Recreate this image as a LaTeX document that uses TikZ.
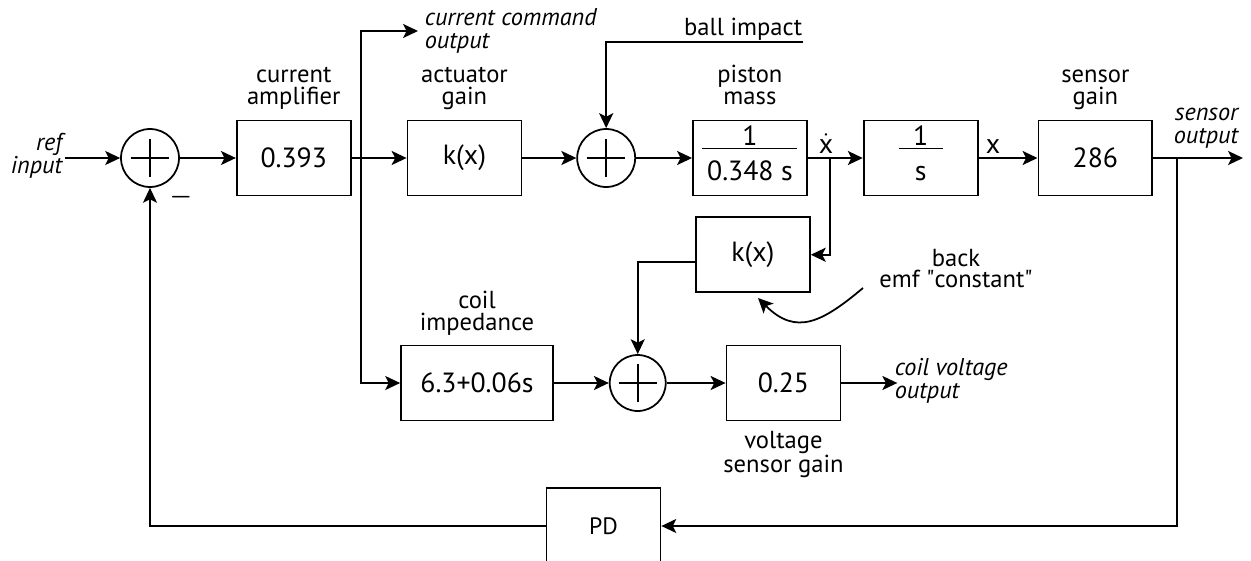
\documentclass[tikz,border=0pt]{standalone}
\usepackage{amsmath}
\usepackage{fontspec}
\setmainfont{PT Sans}
\usetikzlibrary{arrows.meta,positioning,calc}

% numerator over a rule over denominator, for the transfer-function boxes
\newcommand{\fracbox}[3]{#1\\[-15pt]\rule{#3}{1pt}\\#2\rule[-6pt]{0pt}{6pt}}

\begin{document}
\begin{tikzpicture}[
    x=0.02cm, y=-0.02cm,
    line width=1pt,
    >={Stealth[length=8.5pt,width=8pt,inset=2pt]},
    gainbox/.style={draw, align=center, minimum width=2.28cm, minimum height=1.5cm,
                    inner sep=2pt, font=\fontsize{15.8}{17.5}\selectfont},
    sumnode/.style={draw, circle, minimum size=1.16cm, inner sep=0pt,
                    path picture={\draw
                      ([xshift=-0.38cm]path picture bounding box.center) -- ([xshift=0.38cm]path picture bounding box.center)
                      ([yshift=-0.38cm]path picture bounding box.center) -- ([yshift=0.38cm]path picture bounding box.center);}},
    lbl/.style={font=\fontsize{14}{12.5}\selectfont, align=center, inner sep=0pt, text depth=3.5pt},
    iolbl/.style={lbl, font=\fontsize{13.8}{13.6}\selectfont\itshape},
    sig/.style={font=\fontsize{15.8}{17}\selectfont, inner sep=0pt},
    node distance=1.1cm,
]
\useasboundingbox (0,0) rectangle (1251,561);

% --- forward path ---
\node[sumnode] (sum1) at (150,158) {};
\node[gainbox, right=1.12cm of sum1]  (amp)    {0.393};
\node[gainbox, right=1.1cm of amp]    (act)    {k(x)};
\node[sumnode, right=1.08cm of act]   (sum2)   {};
\node[gainbox, right=1.12cm of sum2]  (piston) {\fracbox{1}{0.348 s}{1.9cm}};
\node[gainbox, right=1.1cm of piston] (integ)  {\fracbox{1}{s}{0.88cm}};
\node[gainbox, right=1.18cm of integ] (sens)   {286};

% --- back emf and coil voltage path ---
\node[gainbox, below=0.4cm of piston, xshift=0.06cm] (kbemf) {k(x)};
\node[gainbox, minimum width=3.04cm] (coil) at (477,383) {6.3+0.06s};
\node[sumnode, minimum size=1.12cm, right=1.1cm of coil] (sum3) {};
\node[gainbox, right=1.18cm of sum3] (vgain) {0.25};

% --- feedback controller ---
\node[gainbox, minimum height=1.52cm, font=\fontsize{13.5}{15}\selectfont] (pd) at (603.5,526) {PD};

% block labels
\node[lbl, above=4.5pt of amp]    {current\\amplifier};
\node[lbl, above=4.5pt of act]    {actuator\\gain};
\node[lbl, above=4.5pt of piston] {piston\\mass};
\node[lbl, above=4.5pt of sens]   {sensor\\gain};
\node[lbl, above=4pt of coil]     {coil\\impedance};
\node[lbl, below=5pt of vgain]    {voltage\\sensor gain};

% inputs and outputs
\coordinate (refin)   at (65,158);
\coordinate (cmdout)  at (418,31);
\coordinate (ballin)  at (803,42);
\coordinate (sensout) at (1243,158);
\coordinate (vout)    at ($(vgain.east)+(56,0)$);
\node[iolbl, align=right, anchor=south east] at (63,181)   {ref\\input};
\node[iolbl, align=left, anchor=south west]  at (424,56)   {current command\\output};
\node[lbl, anchor=base east]                 at (803,35)   {ball impact};
\node[iolbl, align=right, anchor=south east] at (1239,151) {sensor\\output};
\node[iolbl, align=left, anchor=south west]  at (894,406)  {coil voltage\\output};

% signal names
\node[sig, anchor=base] at (826,153) {$\dot{\mbox{x}}$};
\node[sig, anchor=base] at (993,153) {x};
\node[sig] at (181,197) {$\boldsymbol{-}$};

% branch points
\coordinate (br1) at (361,158);
\coordinate (br2) at (830,158);
\coordinate (br3) at (1177,158);

% forward connectors
\draw[->] (refin) -- (sum1);
\draw[->] (sum1) -- (amp);
\draw[->] (amp) -- (act);
\draw[->] (act) -- (sum2);
\draw[->] (sum2) -- (piston);
\draw[->] (piston) -- (integ);
\draw[->] (integ) -- (sens);
\draw[->] (sens) -- (sensout);
\draw[->] (ballin) -| (sum2.north);

% taps off the current command
\draw[->] (br1) |- (cmdout);
\draw[->] (br1) |- (coil.west);

% back emf loop
\draw[->] (br2) |- (kbemf.east);
\draw[->] ($(kbemf.west)+(0,7)$) -| (sum3.north);
\draw[->] (coil) -- (sum3);
\draw[->] (sum3) -- (vgain);
\draw[->] (vgain) -- (vout);

% position feedback through PD
\draw[->] (br3) |- (pd.east);
\draw[->] (pd.west) -| (sum1.south);

% annotation for the back emf block
\node[lbl, anchor=south] (emf) at (956,295) {back\\emf \textquotedbl constant\textquotedbl};
\coordinate (emftail) at (863,288);
\coordinate (emftip)  at (758,298);
\draw[->] (emftail) to[out=220, in=-45, looseness=1.3] (emftip);

\end{tikzpicture}
\end{document}
